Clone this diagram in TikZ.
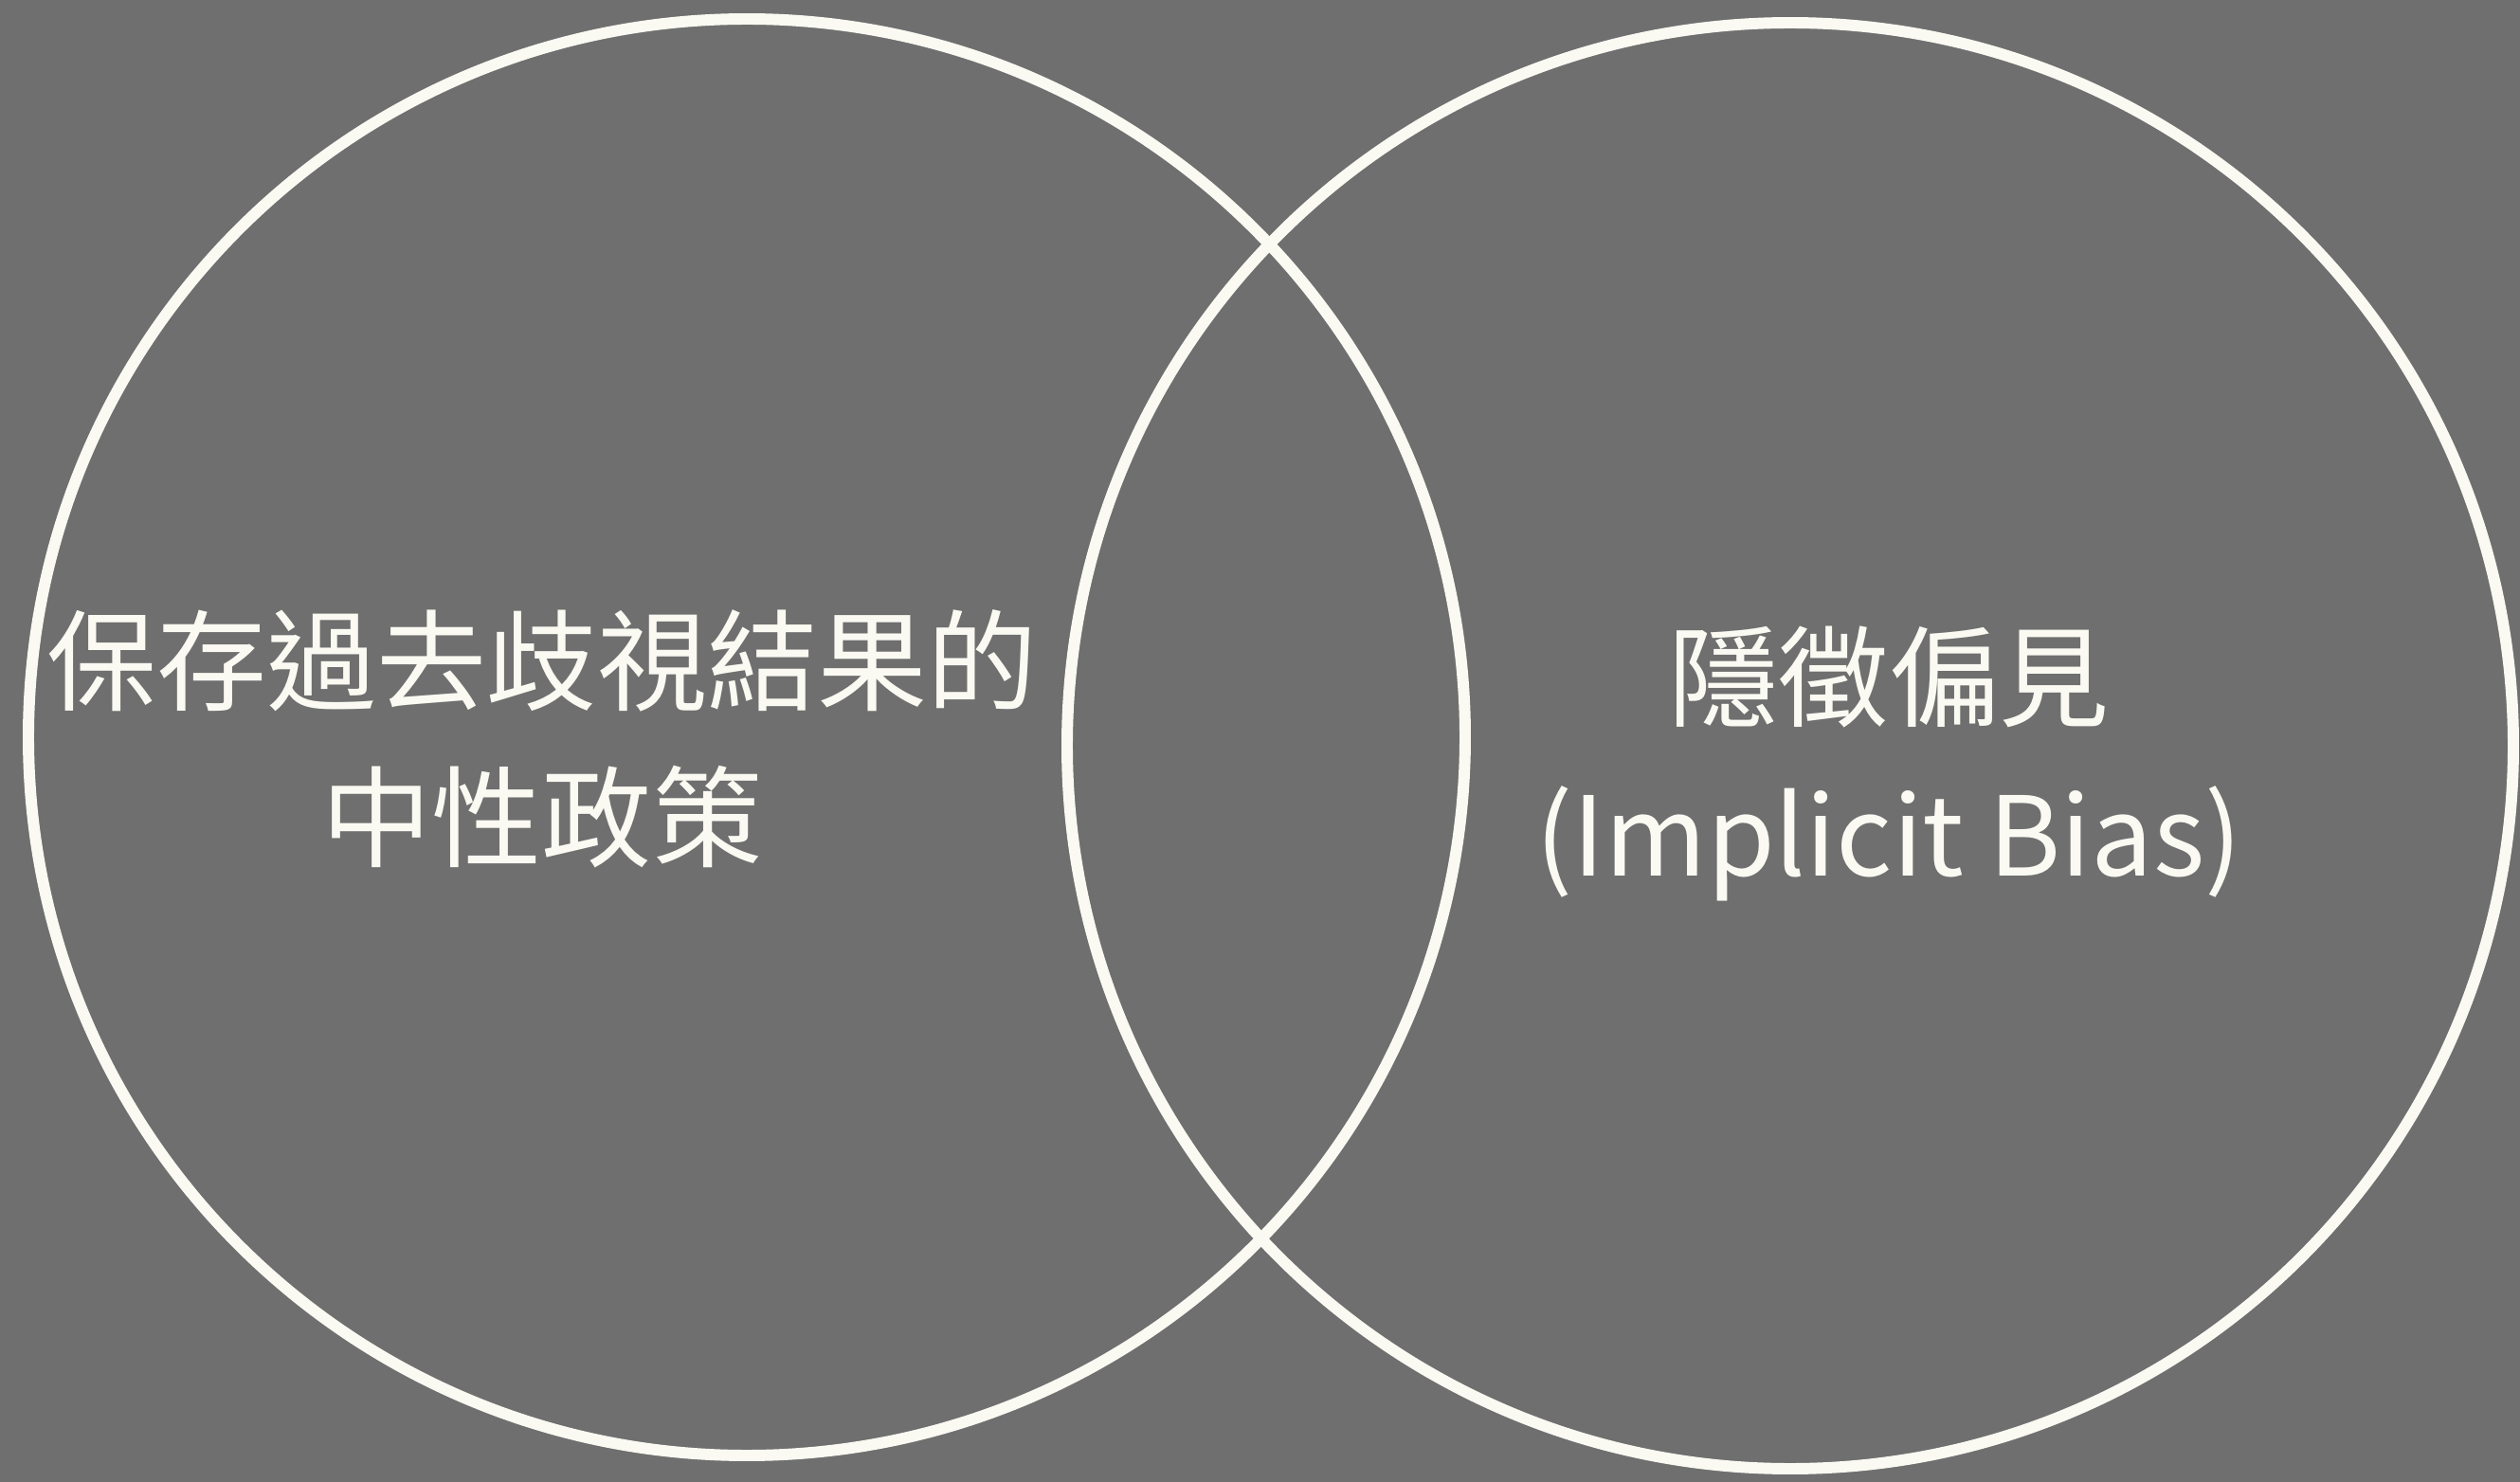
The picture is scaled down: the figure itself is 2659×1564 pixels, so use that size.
\documentclass[tikz,border=0pt]{standalone}
\usepackage{fontspec}
\setmainfont{Noto Sans CJK TC}
\usetikzlibrary{positioning}
\definecolor{bggray}{RGB}{111,111,111}
\definecolor{ivory}{RGB}{250,250,243}

\begin{document}
\begin{tikzpicture}[x=0.01cm, y=0.01cm]
                    \tikzstyle{every node}+=[inner sep=0pt]
                    \tikzstyle{ring}=[draw=ivory, line width=3.4pt]
                    \tikzstyle{label}=[text=ivory, align=center, font=\fontsize{33}{47}\selectfont]
                    \fill [bggray] (0,0) rectangle (2659,-1564);
                    \draw [ring] (788,-778) circle (758);
                    \draw [ring] (1889,-787) circle (763);
                    \node [label] (policy) at (572,-780) {保存過去歧視結果的\\中性政策};
                    \node [label] (bias) at (1993,-806) {隱徵偏見\\(Implicit Bias)};
                \end{tikzpicture}
\end{document}
